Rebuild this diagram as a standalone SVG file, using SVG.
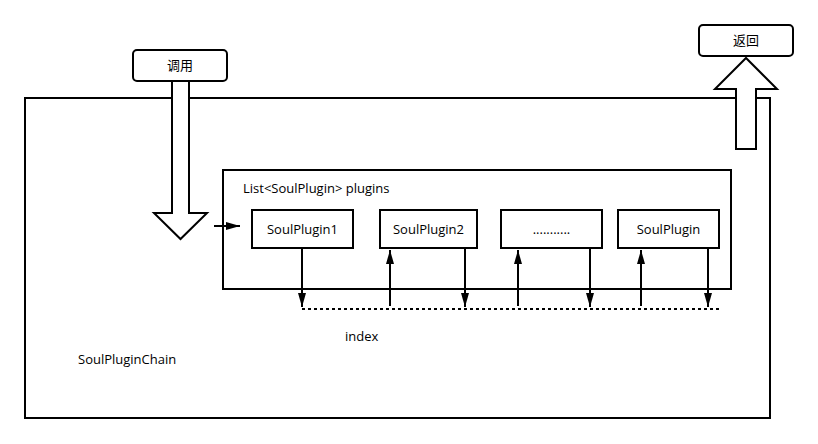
<svg xmlns="http://www.w3.org/2000/svg" width="818" height="444" viewBox="0 0 818 444">
<style>
.b{fill:#fff;stroke:#000;stroke-width:2}
.t{font-family:"Open Sans","Liberation Sans","Noto Sans CJK SC",sans-serif;font-size:13px;fill:#000}
.c{stroke:#000;stroke-width:2;fill:none}
</style>
<defs>
<marker id="a" markerWidth="15" markerHeight="9" refX="14" refY="4.5" orient="auto" markerUnits="userSpaceOnUse"><path d="M0,0.5L14,4.5L0,8.5z" fill="#000"/></marker>
</defs>
<rect width="818" height="444" fill="#fff"/>
<g id="chain"><rect x="25" y="98" width="745" height="320" class="b"/><text x="78" y="364" class="t">SoulPluginChain</text></g>
<g id="call"><rect x="133" y="50" width="94" height="31" rx="4" class="b"/><text x="180" y="70" class="t" text-anchor="middle">调用</text>
<path d="M172,81V213H154L180.5,239L207,213H189V81Z" class="b"/></g>
<g id="ret"><rect x="699" y="25" width="94" height="31" rx="4" class="b"/><text x="746" y="45" class="t" text-anchor="middle">返回</text>
<path d="M736,149V89H715L746,58L777,89H756V149Z" class="b"/></g>
<g id="list"><rect x="223" y="170" width="508" height="119" class="b"/><text x="243" y="193" class="t">List&lt;SoulPlugin&gt; plugins</text></g>
<g id="p1"><rect x="252" y="210" width="101" height="38" class="b"/><text x="302.5" y="234" class="t" text-anchor="middle">SoulPlugin1</text></g>
<g id="p2"><rect x="380" y="210" width="97" height="38" class="b"/><text x="428.5" y="234" class="t" text-anchor="middle">SoulPlugin2</text></g>
<g id="p3"><rect x="501" y="210" width="101" height="38" class="b"/><text x="551.5" y="234" class="t" text-anchor="middle">...........</text></g>
<g id="p4"><rect x="618" y="210" width="101" height="38" class="b"/><text x="668.5" y="234" class="t" text-anchor="middle">SoulPlugin</text></g>
<g id="idx"><text x="345" y="341" class="t">index</text></g>
<g id="connectors">
<path d="M214,226H240" class="c" marker-end="url(#a)"/>
<path d="M302,248V307" class="c" marker-end="url(#a)"/>
<path d="M390,306V250" class="c" marker-end="url(#a)"/>
<path d="M465,248V307" class="c" marker-end="url(#a)"/>
<path d="M518,306V250" class="c" marker-end="url(#a)"/>
<path d="M590,248V307" class="c" marker-end="url(#a)"/>
<path d="M641,306V250" class="c" marker-end="url(#a)"/>
<path d="M708,248V307" class="c" marker-end="url(#a)"/>
<path d="M302,309H720" class="c" stroke-dasharray="3,3"/>
</g>
</svg>
